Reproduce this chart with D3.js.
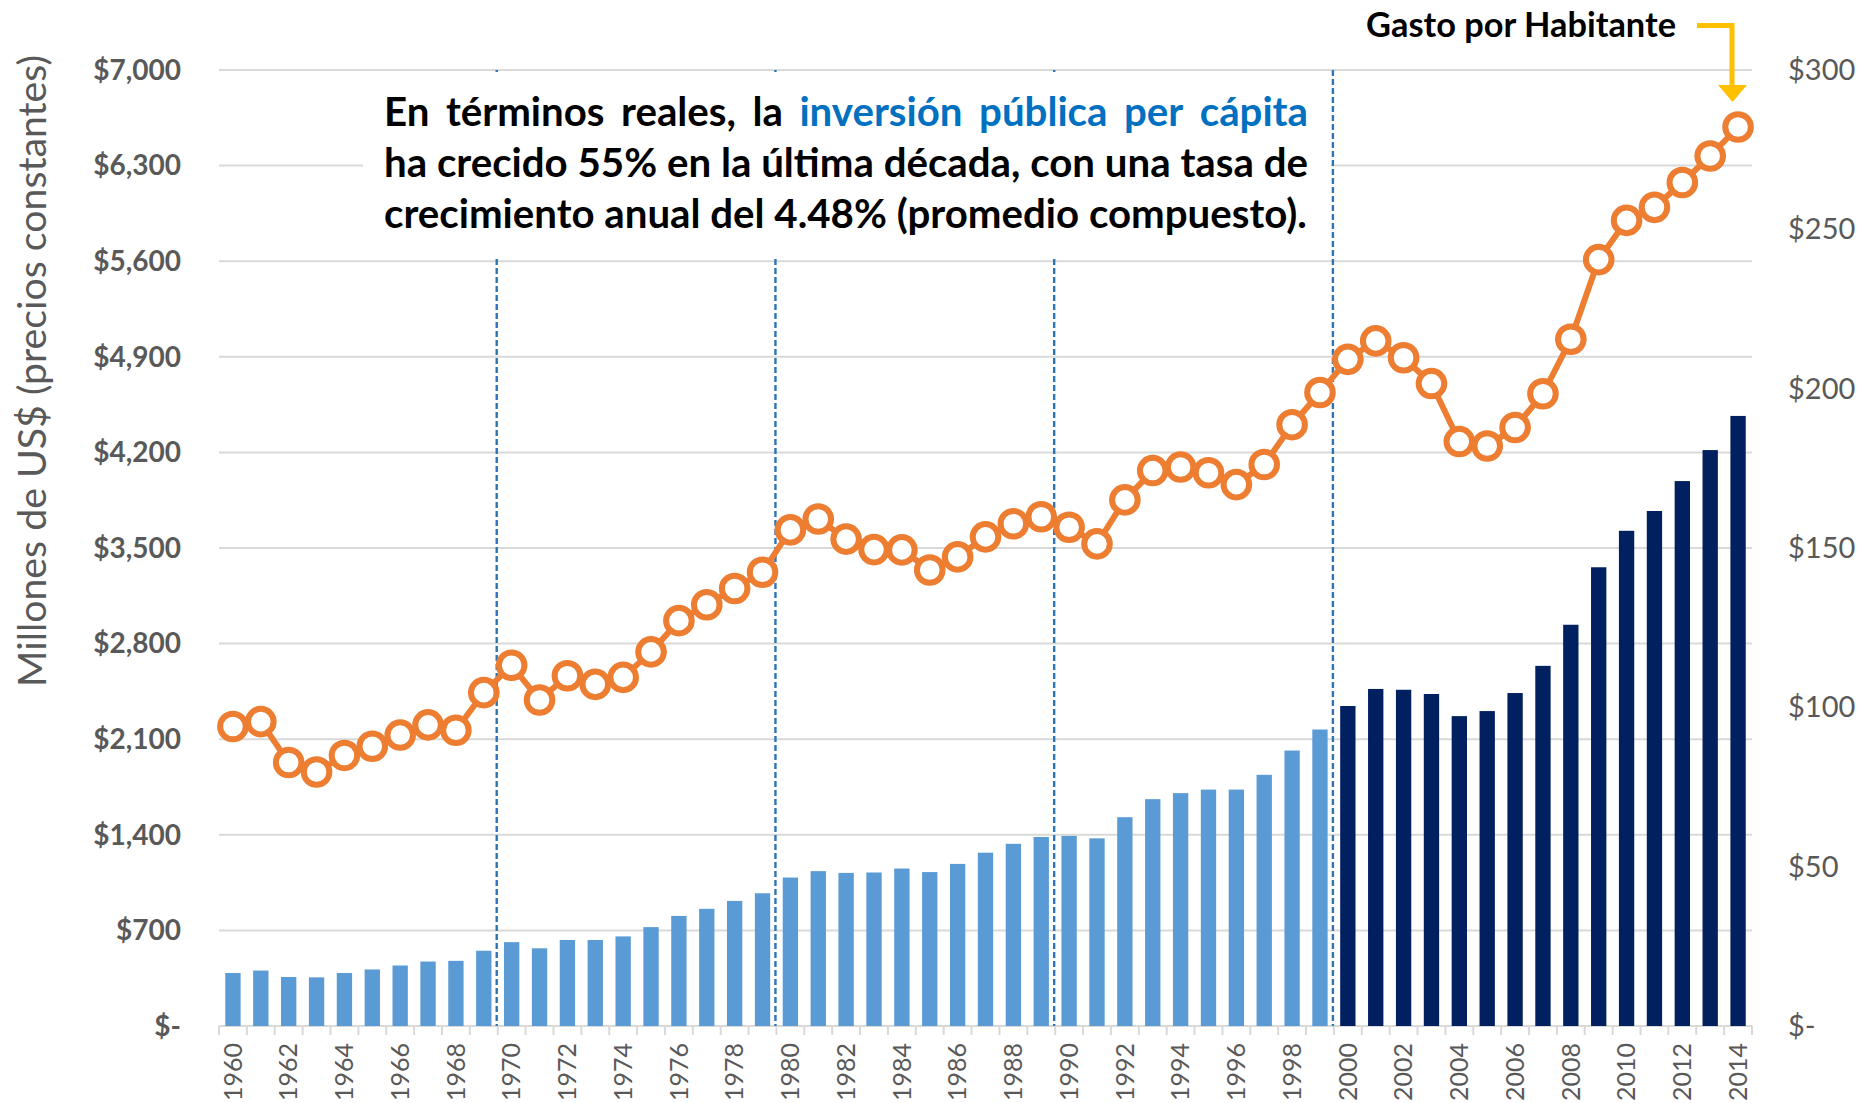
<!DOCTYPE html>
<html>
<head>
<meta charset="utf-8">
<script src="https://cdn.jsdelivr.net/npm/d3@7"></script>
<style>
  body { margin: 0; background: #fff; }
  svg { display: block; }
  text { font-family: Lato, "Open Sans", sans-serif; }
</style>
</head>
<body>
<div id="chart"></div>
<script>
// categories
const years = [1960, 1961, 1962, 1963, 1964, 1965, 1966, 1967, 1968, 1969,
  1970, 1971, 1972, 1973, 1974, 1975, 1976, 1977, 1978, 1979,
  1980, 1981, 1982, 1983, 1984, 1985, 1986, 1987, 1988, 1989,
  1990, 1991, 1992, 1993, 1994, 1995, 1996, 1997, 1998, 1999,
  2000, 2001, 2002, 2003, 2004, 2005, 2006, 2007, 2008, 2009,
  2010, 2011, 2012, 2013, 2014];

// inversion publica, millones de US$ (precios constantes) - bars, left axis
const inversion = [388, 406, 359, 356, 388, 414, 443, 472, 477, 551,
  614, 569, 630, 630, 656, 724, 806, 858, 916, 972,
  1087, 1134, 1121, 1124, 1153, 1127, 1187, 1269, 1334, 1384,
  1392, 1374, 1529, 1661, 1705, 1731, 1731, 1839, 2017, 2171,
  2343, 2468, 2462, 2431, 2269, 2306, 2438, 2637, 2938, 3359,
  3626, 3771, 3990, 4217, 4467];

// gasto por habitante (US$) - line, right axis
const gasto = [94.0, 95.5, 82.7, 79.7, 84.9, 87.8, 91.3, 94.5, 92.8, 104.6,
  113.2, 102.3, 109.9, 107.2, 109.4, 117.4, 127.2, 132.2, 137.3, 142.4,
  155.7, 159.1, 152.8, 149.5, 149.4, 143.1, 147.2, 153.5, 157.6, 159.8,
  156.5, 151.3, 165.1, 174.3, 175.4, 173.6, 169.9, 176.2, 188.7, 198.8,
  209.2, 215.0, 209.7, 201.6, 183.4, 182.0, 187.8, 198.4, 215.5, 240.5,
  252.8, 256.9, 264.7, 273.0, 282.1];

const leftTicks = [0, 700, 1400, 2100, 2800, 3500, 4200, 4900, 5600, 6300, 7000];
const rightTicks = [0, 50, 100, 150, 200, 250, 300];
const yearLabels = years.filter(d => d % 2 === 0);
const decadeMarks = [1970, 1980, 1990, 2000];
const firstDarkYear = 2000;

const width = 1858;
const height = 1103;
const plot = { left: 219, right: 1752, top: 70, bottom: 1026 };

const svg = d3.select("#chart")
  .append("svg")
  .attr("width", width)
  .attr("height", height);

const x = d3.scaleBand()
  .domain(years)
  .range([plot.left, plot.right])
  .padding(0);

const yL = d3.scaleLinear().domain([0, 7000]).range([plot.bottom, plot.top]);
const yR = d3.scaleLinear().domain([0, 300]).range([plot.bottom, plot.top]);

const money = d => d === 0 ? "$-" : "$" + d3.format(",")(d);
const grey = "#595959";

// gridlines
svg.append("g")
  .selectAll("line")
  .data(leftTicks)
  .enter()
  .append("line")
  .attr("x1", plot.left)
  .attr("x2", plot.right)
  .attr("y1", d => yL(d))
  .attr("y2", d => yL(d))
  .attr("stroke", "#d9d9d9")
  .attr("stroke-width", 2);

// x axis tick marks at category edges
const edges = years.map(d => x(d)).concat([plot.right]);
svg.append("g")
  .selectAll("line")
  .data(edges)
  .enter()
  .append("line")
  .attr("x1", d => d)
  .attr("x2", d => d)
  .attr("y1", plot.bottom)
  .attr("y2", plot.bottom + 9)
  .attr("stroke", "#d9d9d9")
  .attr("stroke-width", 2);

// bars
const barW = x.bandwidth() * 0.55;
svg.append("g")
  .selectAll("rect")
  .data(years)
  .enter()
  .append("rect")
  .attr("x", d => x(d) + (x.bandwidth() - barW) / 2)
  .attr("width", barW)
  .attr("y", (d, i) => yL(inversion[i]))
  .attr("height", (d, i) => plot.bottom - yL(inversion[i]))
  .attr("fill", d => d >= firstDarkYear ? "#002060" : "#5b9bd5");

// decade separators (dashed)
svg.append("g")
  .selectAll("line")
  .data(decadeMarks)
  .enter()
  .append("line")
  .attr("x1", d => x(d) - 1)
  .attr("x2", d => x(d) - 1)
  .attr("y1", plot.top)
  .attr("y2", plot.bottom)
  .attr("stroke", "#2e75b6")
  .attr("stroke-width", 2.4)
  .attr("stroke-dasharray", "6,3");

// white text box behind annotation
svg.append("rect")
  .attr("x", 363)
  .attr("y", 72)
  .attr("width", 968)
  .attr("height", 185)
  .attr("fill", "#fff");

// line + markers
const cx = d => x(d) + x.bandwidth() / 2;
const line = d3.line()
  .x((d, i) => cx(years[i]))
  .y(d => yR(d));

svg.append("path")
  .datum(gasto)
  .attr("d", line)
  .attr("fill", "none")
  .attr("stroke", "#ed7d31")
  .attr("stroke-width", 6)
  .attr("stroke-linejoin", "round");

svg.append("g")
  .selectAll("circle")
  .data(gasto)
  .enter()
  .append("circle")
  .attr("cx", (d, i) => cx(years[i]))
  .attr("cy", d => yR(d))
  .attr("r", 12.8)
  .attr("fill", "#fff")
  .attr("stroke", "#ed7d31")
  .attr("stroke-width", 6);

// left axis labels
svg.append("g")
  .selectAll("text")
  .data(leftTicks)
  .enter()
  .append("text")
  .attr("x", 181)
  .attr("y", d => yL(d))
  .attr("dy", "0.35em")
  .attr("text-anchor", "end")
  .attr("font-size", 28)
  .attr("font-weight", "bold")
  .attr("fill", grey)
  .text(money);

// right axis labels
svg.append("g")
  .selectAll("text")
  .data(rightTicks)
  .enter()
  .append("text")
  .attr("x", 1788)
  .attr("y", d => yR(d))
  .attr("dy", "0.35em")
  .attr("font-size", 29)
  .attr("fill", grey)
  .text(money);

// year labels (rotated)
svg.append("g")
  .selectAll("text")
  .data(yearLabels)
  .enter()
  .append("text")
  .attr("transform", d => `translate(${cx(d)}, 1043) rotate(-90)`)
  .attr("dy", "0.35em")
  .attr("text-anchor", "end")
  .attr("font-size", 25)
  .attr("fill", grey)
  .text(d => d);

// left axis title, fitted to its length in the reference
const yTitle = svg.append("text")
  .attr("transform", "translate(32, 371) rotate(-90)")
  .attr("dy", "0.35em")
  .attr("text-anchor", "middle")
  .attr("font-size", 34)
  .attr("fill", grey)
  .text("Millones de US$ (precios constantes)");
const tLen = yTitle.node().getComputedTextLength();
yTitle.attr("font-size", 34 * 632 / tLen);

// annotation (justified paragraph)
const paragraph = [
  [{ t: "En términos reales, la", c: "#000" }, { t: "inversión pública per cápita", c: "#0070c0" }],
  [{ t: "ha crecido 55% en la última década, con una tasa de", c: "#000" }],
  [{ t: "crecimiento anual del 4.48% (promedio compuesto).", c: "#000" }]
];
const boxL = 384, boxW = 924;
const baselines = [126, 177, 228];

const probe = svg.append("text").attr("font-size", 40).attr("font-weight", "bold");
const measure = s => { probe.text(s); return probe.node().getComputedTextLength(); };
const fs = 40 * boxW / measure(paragraph[1][0].t);
probe.attr("font-size", fs);

paragraph.forEach((parts, li) => {
  const words = [];
  parts.forEach(p => p.t.split(" ").forEach(w => words.push({ w: w, c: p.c })));
  words.forEach(o => { o.len = measure(o.w); });
  const total = d3.sum(words, o => o.len);
  const last = li === paragraph.length - 1;
  const gap = last ? measure("a a") - 2 * measure("a") : (boxW - total) / (words.length - 1);
  let px = boxL;
  words.forEach(o => {
    svg.append("text")
      .attr("x", px)
      .attr("y", baselines[li])
      .attr("font-size", fs)
      .attr("font-weight", "bold")
      .attr("fill", o.c)
      .text(o.w);
    px += o.len + gap;
  });
});
probe.remove();

// "Gasto por Habitante" callout with arrow
const callout = svg.append("text")
  .attr("x", 1676)
  .attr("y", 37)
  .attr("text-anchor", "end")
  .attr("font-size", 28)
  .attr("font-weight", "bold")
  .attr("fill", "#000")
  .text("Gasto por Habitante");
const cLen = callout.node().getComputedTextLength();
callout.attr("font-size", 28 * 310 / cLen);

svg.append("path")
  .attr("d", "M1697,25.5 H1732 V88")
  .attr("fill", "none")
  .attr("stroke", "#ffc000")
  .attr("stroke-width", 5);
svg.append("path")
  .attr("d", "M1718,85 L1747,85 L1732.5,102 Z")
  .attr("fill", "#ffc000");
</script>
</body>
</html>
